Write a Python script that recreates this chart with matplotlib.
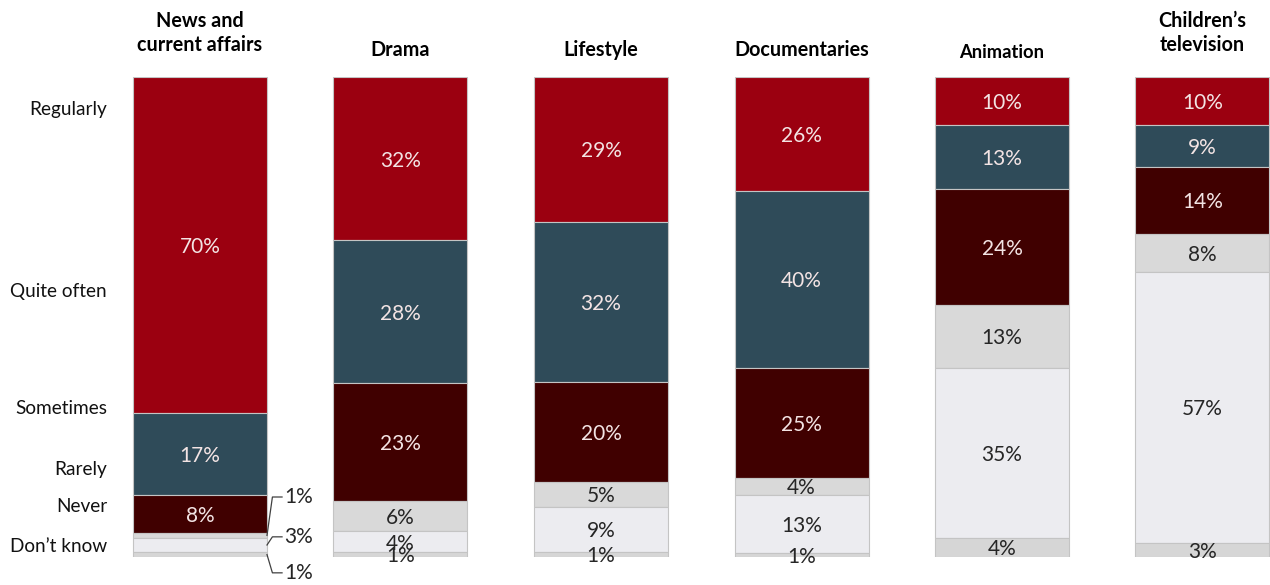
import matplotlib.pyplot as plt
import numpy as np

plt.rcParams['font.family'] = ['Lato', 'DejaVu Sans']

# genres (columns) and answer categories (stack order, top to bottom)
genres = ["News and\ncurrent affairs", "Drama", "Lifestyle", "Documentaries",
          "Animation", "Children\u2019s\ntelevision"]
responses = ["Regularly", "Quite often", "Sometimes", "Rarely", "Never", "Don\u2019t know"]

regularly   = [70, 32, 29, 26, 10, 10]
quite_often = [17, 28, 32, 40, 13, 9]
sometimes   = [8, 23, 20, 25, 24, 14]
rarely      = [1, 6, 5, 4, 13, 8]
never       = [3, 4, 9, 13, 35, 57]
dont_know   = [1, 1, 1, 1, 4, 3]

colors = ["#9B0010", "#2F4B59", "#400000", "#D9D9D9", "#ECECF0", "#D6D6D6"]
txt_col = ["#F3E4E4", "#F3E4E4", "#F3E4E4", "#262626", "#262626", "#262626"]

data = np.array([regularly, quite_often, sometimes, rarely, never, dont_know], dtype=float)
shares = data / data.sum(axis=0) * 100   # 100% stacked

W, H = 1270, 585
fig = plt.figure(figsize=(W / 100, H / 100), dpi=100)
ax = fig.add_axes([99.75 / W, 28 / H, 1 - 99.75 / W, 480 / H])
ax.set_xlim(-0.5, (W - 200) / 200.5)
ax.set_ylim(100, 0)
ax.axis('off')

x = np.arange(len(genres))
bw = 134 / 200.5
pct_fs = 15
start = np.zeros(len(genres))
for j in range(len(responses)):
    ax.bar(x, shares[j], width=bw, bottom=start, color=colors[j],
           edgecolor="#C4C4C4", linewidth=0.8)
    for i in range(len(genres)):
        if i == 0 and j >= 3:
            continue
        ax.text(x[i], start[i] + shares[j][i] / 2 + 0.4, f"{int(data[j][i])}%",
                ha='center', va='center', fontsize=pct_fs, color=txt_col[j])
    start = start + shares[j]

# leader labels for the thin segments of the first bar
edge = x[0] + bw / 2
cum = np.cumsum(shares[:, 0]) - shares[:, 0] / 2
label_y = [87.5, 95.8, 103.3]
for k, j in enumerate([3, 4, 5]):
    ax.plot([edge, edge + 0.027, edge + 0.075], [cum[j], label_y[k], label_y[k]],
            color="#404040", lw=0.9, clip_on=False)
    ax.text(edge + 0.085, label_y[k], f"{int(data[j][0])}%", ha='left', va='center',
            fontsize=pct_fs, color="#262626", clip_on=False)

# column titles
tr = ax.get_xaxis_transform()
title_y = [1.092, 1.056, 1.056, 1.056, 1.05, 1.092]
title_fs = [14.2, 14.2, 14.2, 14.2, 13.2, 14.2]
for i, g in enumerate(genres):
    ax.text(x[i], title_y[i], g, transform=tr, ha='center', va='center',
            fontsize=title_fs[i], fontweight='bold', linespacing=1.25, clip_on=False)

# row labels on the left
row_y = [110, 291, 409, 469, 507, 546]
for lab, py in zip(responses, row_y):
    fig.text(107 / W, 1 - py / H, lab, ha='right', va='center', fontsize=13.7, color="#111111")

fig.savefig("out.png", dpi=100)
